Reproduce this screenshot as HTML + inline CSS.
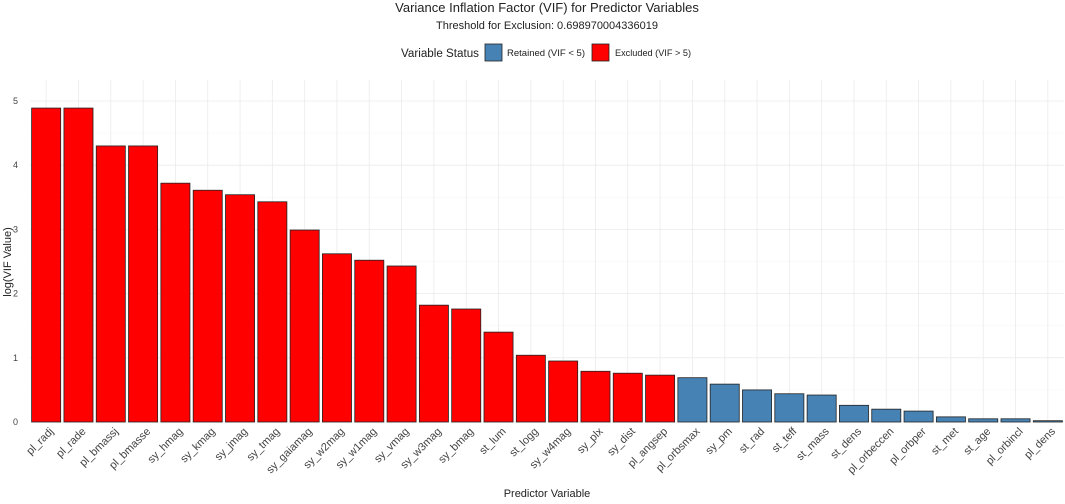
<!DOCTYPE html>
<html><head><meta charset="utf-8"><style>
body{margin:0;background:#fff;font-family:"Liberation Sans",sans-serif}
svg text{font-family:"Liberation Sans",sans-serif}
</style></head><body>
<svg id="c" width="1065" height="499" xmlns="http://www.w3.org/2000/svg">
<text x="547" y="12" text-anchor="middle" font-size="13" fill="#222">Variance Inflation Factor (VIF) for Predictor Variables</text>
<text x="547" y="29" text-anchor="middle" font-size="11" fill="#222">Threshold for Exclusion: 0.698970004336019</text>
<g>
<text x="401" y="57" font-size="11.5" fill="#222" textLength="78" lengthAdjust="spacingAndGlyphs">Variable Status</text>
<rect x="485" y="44" width="17" height="17" fill="#4682B4" stroke="#222" stroke-width="0.8"/>
<text x="507" y="56" font-size="9" fill="#222" textLength="78" lengthAdjust="spacingAndGlyphs">Retained (VIF &lt; 5)</text>
<rect x="592" y="44" width="17" height="17" fill="#FF0000" stroke="#222" stroke-width="0.8"/>
<text x="615" y="56" font-size="9" fill="#222" textLength="76" lengthAdjust="spacingAndGlyphs">Excluded (VIF &gt; 5)</text>
</g>
<g id="grid"></g><g id="bars"></g><g id="axes"></g>
<text x="547" y="497" text-anchor="middle" font-size="11" fill="#222">Predictor Variable</text>
<text transform="translate(11,262) rotate(-90)" text-anchor="middle" font-size="11" fill="#222">log(VIF Value)</text>
</svg>
<script>
const categories=["pl_radj","pl_rade","pl_bmassj","pl_bmasse","sy_hmag","sy_kmag","sy_jmag","sy_tmag","sy_gaiamag","sy_w2mag","sy_w1mag","sy_vmag","sy_w3mag","sy_bmag","st_lum","st_logg","sy_w4mag","sy_plx","sy_dist","pl_angsep","pl_orbsmax","sy_pm","st_rad","st_teff","st_mass","st_dens","pl_orbeccen","pl_orbper","st_met","st_age","pl_orbincl","pl_dens"];
const values=[4.89,4.89,4.30,4.30,3.72,3.61,3.54,3.43,2.99,2.62,2.52,2.43,1.82,1.76,1.40,1.04,0.95,0.79,0.76,0.73,0.69,0.59,0.50,0.44,0.42,0.26,0.20,0.17,0.08,0.05,0.05,0.02];
const threshold=0.698970004336019;
const yTicks=[0,1,2,3,4,5];
const NS="http://www.w3.org/2000/svg";
const L=30,R=1064,Y0=422,Y5=101;
const step=(R-L)/categories.length;
const xc=i=>L+step*(i+0.5);
const y=v=>Y0-(Y0-Y5)*v/5;
function mk(t,a,p){const e=document.createElementNS(NS,t);for(const k in a)e.setAttribute(k,a[k]);p.appendChild(e);return e;}
const g=document.getElementById('grid'),b=document.getElementById('bars'),ax=document.getElementById('axes');
for(let v=0;v<=5.3;v+=0.5){const l=mk('line',{x1:L,x2:R,y1:y(v),y2:y(v),stroke:v%1?'#f5f5f5':'#ebebeb','stroke-width':v%1?0.5:0.8},g);

}
categories.forEach((c,i)=>{const l=mk('line',{x1:xc(i),x2:xc(i),y1:80,y2:Y0,stroke:'#ebebeb','stroke-width':0.8},g);

});
yTicks.forEach(t=>{const e=mk('text',{x:18,y:y(t)+3,'text-anchor':'end','font-size':9,fill:'#444'},ax);e.textContent=t;

});
categories.forEach((c,i)=>{const w=step*0.9;const v=values[i];
const r=mk('rect',{x:xc(i)-w/2,y:y(v),width:w,height:Y0-y(v),fill:v>threshold?'#FF0000':'#4682B4',stroke:'#222','stroke-width':0.8},b);


const t=mk('text',{x:xc(i)+8,y:Y0+10,'text-anchor':'end','font-size':11,fill:'#444',transform:`rotate(-45 ${xc(i)+8} ${Y0+10})`},ax);t.textContent=c;

});
</script>
</body></html>
